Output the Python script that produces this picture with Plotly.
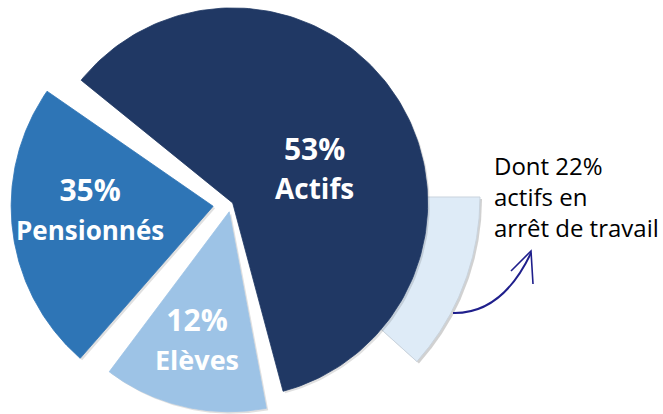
import numpy as np
import plotly.graph_objects as go

# ---------------- data ----------------
categories = ["Actifs", "Elèves", "Pensionnés"]
label_pct = [53, 12, 35]            # percentages printed on the slices
slice_share = [61.2, 14.4, 24.4]    # angular share of each slice as drawn (%)
arret_pct = 22                      # % of actifs "en arrêt de travail"
note_lines = ["Dont 22%", "actifs en", "arrêt de travail"]

# ---------------- styling / layout constants ----------------
W, H = 663, 414
colors = ["#203864", "#9DC3E6", "#2E75B6"]
radii = [195, 200, 202]
pulls = [2, 8, 18]
center = (231, 204)
start_angle = -53.15   # compass degrees (clockwise from 12 o'clock)
pad = 4.3              # angular gap between slices
label_pos = [(314, 167), (197, 338), (90, 208)]
pct_size = [30, 30, 30]
name_size = [28, 27, 26]
light_center = (234, 197)
light_r = 246
light_color = "#DEEBF7"


def wedge(cx, cy, r, a0, a1, n=160):
    t = np.radians(np.linspace(a0, a1, n))
    xs = np.concatenate([[cx], cx + r * np.sin(t), [cx]])
    ys = np.concatenate([[cy], cy - r * np.cos(t), [cy]])
    return xs, ys


fig = go.Figure()

# light wedge: part of actifs en arrêt de travail (behind the Actifs slice)
light_span = arret_pct / 100 * label_pct[0] / 100 * 360
lx, ly = wedge(light_center[0], light_center[1], light_r, 90, 90 + light_span)
fig.add_trace(go.Scatter(x=lx + 2, y=ly + 2, fill="toself", mode="lines",
                         line=dict(width=0), fillcolor="rgba(0,0,0,0.18)",
                         hoverinfo="skip", showlegend=False))
fig.add_trace(go.Scatter(x=lx, y=ly, fill="toself", mode="lines",
                         line=dict(width=1, color="#C9D3DD"), fillcolor=light_color,
                         hoverinfo="skip", showlegend=False))

# main slices
cum = start_angle
for i, cat in enumerate(categories):
    span = slice_share[i] / 100 * 360
    a0, a1 = cum + pad / 2, cum + span - pad / 2
    mid = np.radians((a0 + a1) / 2)
    cx = center[0] + pulls[i] * np.sin(mid)
    cy = center[1] - pulls[i] * np.cos(mid)
    xs, ys = wedge(cx, cy, radii[i], a0, a1)
    fig.add_trace(go.Scatter(x=xs + 2, y=ys + 2, fill="toself", mode="lines",
                             line=dict(width=0), fillcolor="rgba(0,0,0,0.12)",
                             hoverinfo="skip", showlegend=False))
    fig.add_trace(go.Scatter(x=xs, y=ys, fill="toself", mode="lines",
                             line=dict(width=0.8, color=colors[i]), fillcolor=colors[i],
                             name=cat, hoverinfo="name", showlegend=False))
    cum += span
    lx_, ly_ = label_pos[i]
    fig.add_annotation(
        x=lx_, y=ly_, xref="x", yref="y", showarrow=False,
        xanchor="center", yanchor="middle", align="center",
        text=(f"<b><span style='font-size:{pct_size[i]}px'>{label_pct[i]}%</span><br>"
              f"<span style='font-size:{name_size[i]}px'>{cat}</span></b>"),
        font=dict(family="Open Sans", color="white", size=pct_size[i]),
    )

# side note
fig.add_annotation(
    x=492, y=196, xref="x", yref="y", showarrow=False,
    xanchor="left", yanchor="middle", align="left",
    text="<br>".join(note_lines),
    font=dict(family="Open Sans", color="black", size=24),
)

# hand-drawn arrow
arrow_col = "#1F1F8C"
fig.add_shape(type="path", xref="x", yref="y",
              path="M 453,313 Q 502,314 531,253",
              line=dict(color=arrow_col, width=2))
fig.add_shape(type="path", xref="x", yref="y",
              path="M 511,271 L 531,251 L 533,284",
              line=dict(color=arrow_col, width=1.6))

fig.update_layout(
    width=W, height=H, margin=dict(l=0, r=0, t=0, b=0),
    paper_bgcolor="white", plot_bgcolor="white",
    xaxis=dict(range=[0, W], visible=False, fixedrange=True),
    yaxis=dict(range=[H, 0], visible=False, fixedrange=True),
    showlegend=False,
)

fig.write_html("out.html",
               config={"displayModeBar": False},
               post_script="document.body.style.margin='0';document.body.style.overflow='hidden';")
